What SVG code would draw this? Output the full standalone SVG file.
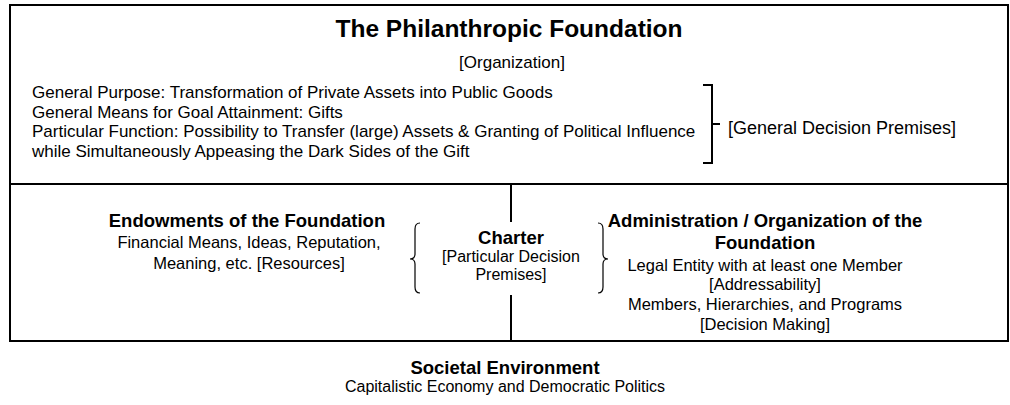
<svg xmlns="http://www.w3.org/2000/svg" width="1010" height="405" viewBox="0 0 1010 405">
<style>
text{font-family:"Liberation Sans",Arial,sans-serif;fill:#000}
.t{font-size:24.5px;font-weight:bold}
.b{font-size:16.5px}
.top{font-size:17px}
.s{font-size:16px}
.h{font-size:18.5px;font-weight:bold}
.g{font-size:18px}
.cs{font-size:16px}
.c{text-anchor:middle}
.frame{fill:none;stroke:#000;stroke-width:2}
.brk{fill:none;stroke:#000;stroke-width:2}
.brace{fill:none;stroke:#000;stroke-width:1.2}
</style>
<rect x="0" y="0" width="1010" height="405" fill="#fff"/>
<g id="foundation">
<rect class="frame" x="10" y="5" width="998" height="336"/>
<line class="frame" x1="10" y1="184" x2="1008" y2="184"/>
<text class="t c" x="509" y="37">The Philanthropic Foundation</text>
<text class="top c" x="512" y="68">[Organization]</text>
<text class="top" x="32" y="98">General Purpose: Transformation of Private Assets into Public Goods</text>
<text class="top" x="32" y="117.5">General Means for Goal Attainment: Gifts</text>
<text class="top" x="32" y="137">Particular Function: Possibility to Transfer (large) Assets &amp; Granting of Political Influence</text>
<text class="top" x="32" y="156.5">while Simultaneously Appeasing the Dark Sides of the Gift</text>
</g>
<g id="general-premises">
<path class="brk" d="M703,85 H712 V163 H703 M712,124 H720"/>
<text class="g" x="728" y="134">[General Decision Premises]</text>
</g>
<g id="endowments">
<text class="h c" x="247" y="226.5">Endowments of the Foundation</text>
<text class="b c" x="249" y="248">Financial Means, Ideas, Reputation,</text>
<text class="b c" x="249" y="269">Meaning, etc. [Resources]</text>
</g>
<g id="charter">
<path class="brace" d="M420,223 Q415,223 415,229 L415,254 Q415,259 410,259 Q415,259 415,264 L415,287 Q415,293 420,293"/>
<path class="brace" d="M598,223 Q603,223 603,229 L603,254 Q603,259 608,259 Q603,259 603,264 L603,287 Q603,293 598,293"/>
<text class="h c" x="511" y="243.5">Charter</text>
<text class="cs c" x="511" y="262">[Particular Decision</text>
<text class="cs c" x="511" y="280">Premises]</text>
</g>
<g id="administration">
<text class="h c" x="765" y="226.5">Administration / Organization of the</text>
<text class="h c" x="765" y="248.5">Foundation</text>
<text class="b c" x="765" y="271">Legal Entity with at least one Member</text>
<text class="b c" x="765" y="290">[Addressability]</text>
<text class="b c" x="765" y="310">Members, Hierarchies, and Programs</text>
<text class="b c" x="765" y="330">[Decision Making]</text>
</g>
<g id="environment">
<text class="h c" x="505" y="373.5">Societal Environment</text>
<text class="s c" x="505" y="392">Capitalistic Economy and Democratic Politics</text>
</g>
<g id="connectors">
<line class="frame" x1="511" y1="184" x2="511" y2="222"/>
<line class="frame" x1="511" y1="295" x2="511" y2="341"/>
</g>
</svg>
